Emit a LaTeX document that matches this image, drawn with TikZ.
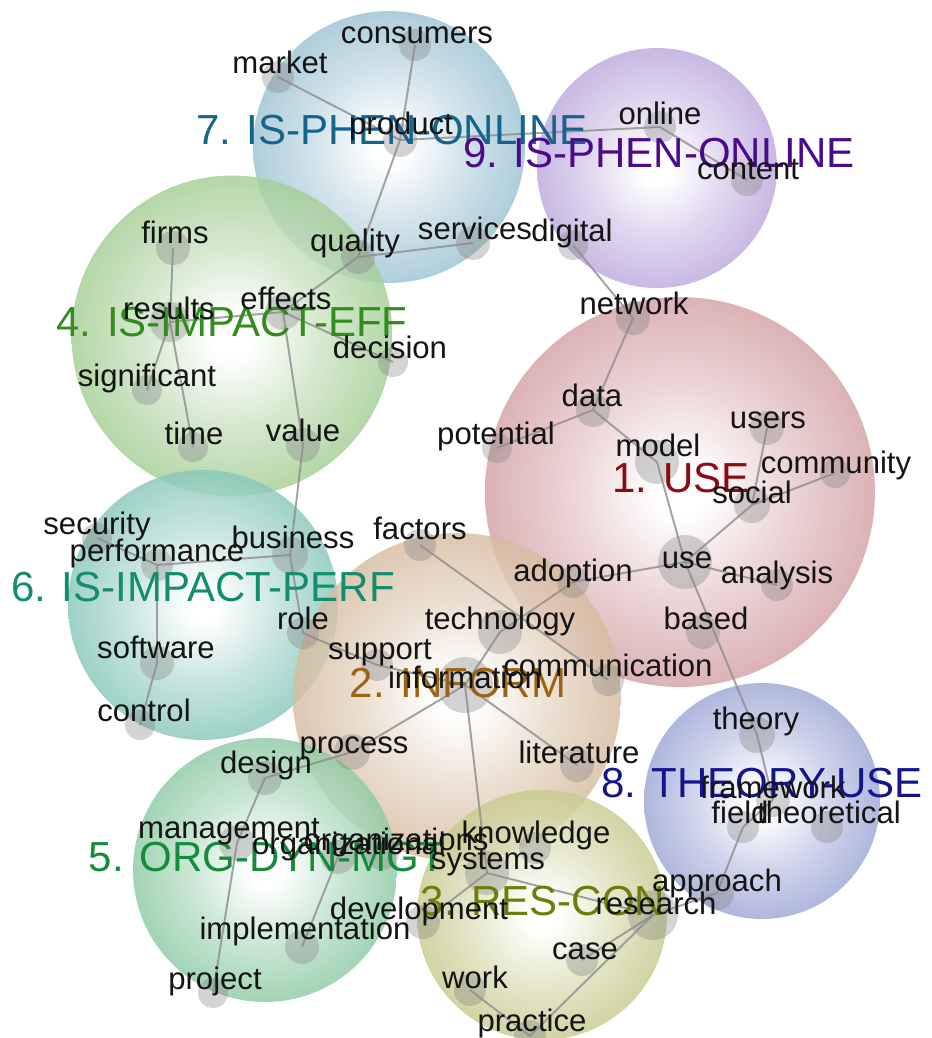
\documentclass[tikz,border=0pt]{standalone}
\usepackage{fontspec}
\setmainfont{Liberation Sans}
\definecolor{cA}{HTML}{B45C62}
\definecolor{cB}{HTML}{B88A58}
\definecolor{cC}{HTML}{9EA43A}
\definecolor{cD}{HTML}{60AA46}
\definecolor{cE}{HTML}{3AA460}
\definecolor{cF}{HTML}{309E8A}
\definecolor{cG}{HTML}{5496B2}
\definecolor{cH}{HTML}{5466B8}
\definecolor{cI}{HTML}{8C6AC4}
\definecolor{lA}{HTML}{8C0A14}
\definecolor{lB}{HTML}{9B6414}
\definecolor{lC}{HTML}{6E7D0A}
\definecolor{lD}{HTML}{328C1E}
\definecolor{lE}{HTML}{148C3C}
\definecolor{lF}{HTML}{148C6E}
\definecolor{lG}{HTML}{14648C}
\definecolor{lH}{HTML}{14148C}
\definecolor{lI}{HTML}{4B0A8C}
\colorlet{bubcol}{white}
\pgfdeclareradialshading[bubcol]{bubble}{\pgfpoint{0bp}{0bp}}{color(0bp)=(white); color(3bp)=(white); color(14bp)=(bubcol!32!white); color(32bp)=(bubcol!74!white); color(50bp)=(bubcol)}
\tikzset{
  bubset/.code={\colorlet{bubcol}{#1}},
  bub/.style={bubset=#1, shading=bubble, opacity=0.82},
  link/.style={draw=black!45, line width=1.1pt, opacity=0.8},
  dot/.style={circle, fill=black!50, fill opacity=0.34, draw=none, inner sep=0pt, minimum size=#1*0.04cm},
  term/.style={font=\fontsize{17.7}{20}\selectfont, inner sep=0pt, text height=12.5pt, text depth=3.6pt, text=black!92, yshift=-0.07cm},
  clab/.style={font=\fontsize{23.9}{28}\selectfont, inner sep=0pt, text height=17pt, text depth=5pt, text=#1, yshift=-0.07cm},
}
\begin{document}
\begin{tikzpicture}[x=0.02cm, y=-0.02cm]
\useasboundingbox (0,0) rectangle (931,1038);
% cluster bubbles
\shade[bub=cG] (389,147) circle [radius=2.72cm];
\shade[bub=cI] (657,168) circle [radius=2.40cm];
\shade[bub=cD] (232,336) circle [radius=3.21cm];
\shade[bub=cA] (680,492) circle [radius=3.90cm];
\shade[bub=cF] (203,605) circle [radius=2.70cm];
\shade[bub=cB] (457,697) circle [radius=3.28cm];
\shade[bub=cH] (762,801) circle [radius=2.36cm];
\shade[bub=cE] (265,870) circle [radius=2.64cm];
\shade[bub=cC] (542,915) circle [radius=2.50cm];
% term dots
\node[dot=16] (consumers) at (415,45) {};
\node[dot=16] (market) at (278,77) {};
\node[dot=17] (product) at (400,140) {};
\node[dot=17] (quality) at (358,257) {};
\node[dot=17] (services) at (473,243) {};
\node[dot=16] (online) at (660,127) {};
\node[dot=16] (content) at (747,180) {};
\node[dot=15] (digital) at (573,245) {};
\node[dot=17] (network) at (633,318) {};
\node[dot=17] (data) at (593,410) {};
\node[dot=15] (potential) at (497,448) {};
\node[dot=22] (model) at (657,462) {};
\node[dot=17] (users) at (767,428) {};
\node[dot=15] (community) at (835,473) {};
\node[dot=18] (social) at (752,505) {};
\node[dot=27] (use) at (685,562) {};
\node[dot=16] (adoption) at (573,582) {};
\node[dot=16] (analysis) at (777,585) {};
\node[dot=17] (based) at (703,632) {};
\node[dot=16] (factors) at (420,545) {};
\node[dot=22] (technology) at (500,632) {};
\node[dot=16] (support) at (377,665) {};
\node[dot=28] (information) at (465,685) {};
\node[dot=16] (communication) at (608,680) {};
\node[dot=18] (process) at (352,752) {};
\node[dot=17] (literature) at (577,765) {};
\node[dot=16] (role) at (303,633) {};
\node[dot=15] (security) at (97,538) {};
\node[dot=16] (performance) at (157,565) {};
\node[dot=18] (business) at (290,555) {};
\node[dot=17] (software) at (157,663) {};
\node[dot=15] (control) at (140,725) {};
\node[dot=17] (firms) at (173,248) {};
\node[dot=20] (results) at (170,322) {};
\node[dot=18] (effects) at (283,312) {};
\node[dot=15] (decision) at (393,362) {};
\node[dot=15] (significant) at (147,390) {};
\node[dot=15] (time) at (193,447) {};
\node[dot=17] (value) at (303,445) {};
\node[dot=17] (design) at (265,778) {};
\node[dot=18] (management) at (237,843) {};
\node[dot=17] (organizational) at (338,857) {};
\node[dot=17] (organizations) at (382,853) {};
\node[dot=17] (implementation) at (302,947) {};
\node[dot=17] (development) at (423,922) {};
\node[dot=15] (project) at (213,993) {};
\node[dot=16] (knowledge) at (535,848) {};
\node[dot=22] (systems) at (487,873) {};
\node[dot=25] (research) at (653,915) {};
\node[dot=17] (approach) at (717,893) {};
\node[dot=16] (case) at (582,960) {};
\node[dot=16] (work) at (470,990) {};
\node[dot=16] (practice) at (530,1036) {};
\node[dot=18] (theory) at (757,735) {};
\node[dot=17] (framework) at (773,800) {};
\node[dot=16] (field) at (743,827) {};
\node[dot=16] (theoretical) at (827,827) {};
% links
\foreach \a/\b in {market/product, consumers/product, product/quality, product/online,
  quality/services, quality/effects, online/content, digital/network, network/data,
  data/potential, data/model, model/use, use/social, social/users, social/community,
  use/adoption, use/analysis, use/theory, adoption/technology, factors/communication,
  technology/information, role/support, support/information, information/process,
  information/literature, information/systems, design/process, design/management,
  management/project, organizational/implementation, systems/development,
  systems/research, research/approach, research/case, research/practice, work/practice,
  approach/field, theory/framework, framework/field,
  firms/results, results/effects, results/significant, results/time, effects/decision,
  effects/value, value/business, security/performance, performance/business,
  business/role, performance/software, software/control}
  \draw[link] (\a.center) -- (\b.center);
% cluster labels
\node[clab=lA] (k1) at (681,478) {1. USE};
\node[clab=lB] (k2) at (458,683) {2. INFORM};
\node[clab=lC] (k3) at (543,901) {3. RES-CON};
\node[clab=lD] (k4) at (232,322) {4. IS-IMPACT-EFF};
\node[clab=lE] (k5) at (267,857) {5. ORG-DYN-MGT};
\node[clab=lF] (k6) at (203,587) {6. IS-IMPACT-PERF};
\node[clab=lG] (k7) at (392,130) {7. IS-PHEN-ONLINE};
\node[clab=lH] (k8) at (762,783) {8. THEORY-USE};
\node[clab=lI] (k9) at (659,153) {9. IS-PHEN-ONLINE};
% term labels
\node[term] (l-consumers) at (417,32) {consumers};
\node[term] (l-market) at (280,62) {market};
\node[term] (l-product) at (401,123) {product};
\node[term] (l-quality) at (355,240) {quality};
\node[term] (l-services) at (475,228) {services};
\node[term] (l-online) at (660,113) {online};
\node[term] (l-content) at (748,168) {content};
\node[term] (l-digital) at (572,230) {digital};
\node[term] (l-network) at (634,303) {network};
\node[term] (l-data) at (592,395) {data};
\node[term] (l-potential) at (496,433) {potential};
\node[term] (l-model) at (658,445) {model};
\node[term] (l-users) at (768,417) {users};
\node[term] (l-community) at (836,462) {community};
\node[term] (l-social) at (752,492) {social};
\node[term] (l-use) at (687,557) {use};
\node[term] (l-adoption) at (573,570) {adoption};
\node[term] (l-analysis) at (777,572) {analysis};
\node[term] (l-based) at (706,618) {based};
\node[term] (l-factors) at (420,528) {factors};
\node[term] (l-technology) at (500,618) {technology};
\node[term] (l-support) at (380,648) {support};
\node[term] (l-information) at (465,677) {information};
\node[term] (l-communication) at (608,665) {communication};
\node[term] (l-process) at (354,742) {process};
\node[term] (l-literature) at (579,752) {literature};
\node[term] (l-role) at (303,618) {role};
\node[term] (l-security) at (97,523) {security};
\node[term] (l-performance) at (157,550) {performance};
\node[term] (l-business) at (293,537) {business};
\node[term] (l-software) at (156,647) {software};
\node[term] (l-control) at (144,710) {control};
\node[term] (l-firms) at (175,232) {firms};
\node[term] (l-results) at (169,308) {results};
\node[term] (l-effects) at (286,298) {effects};
\node[term] (l-decision) at (390,347) {decision};
\node[term] (l-significant) at (147,375) {significant};
\node[term] (l-time) at (194,433) {time};
\node[term] (l-value) at (303,430) {value};
\node[term] (l-design) at (266,762) {design};
\node[term] (l-management) at (229,827) {management};
\node[term] (l-organizational) at (349,843) {organizational};
\node[term] (l-organizations) at (396,839) {organizations};
\node[term] (l-implementation) at (305,928) {implementation};
\node[term] (l-development) at (419,908) {development};
\node[term] (l-project) at (215,978) {project};
\node[term] (l-knowledge) at (536,832) {knowledge};
\node[term] (l-systems) at (488,858) {systems};
\node[term] (l-research) at (656,903) {research};
\node[term] (l-approach) at (717,880) {approach};
\node[term] (l-case) at (585,948) {case};
\node[term] (l-work) at (475,977) {work};
\node[term] (l-practice) at (532,1020) {practice};
\node[term] (l-theory) at (756,718) {theory};
\node[term] (l-framework) at (773,787) {framework};
\node[term] (l-field) at (740,812) {field};
\node[term] (l-theoretical) at (829,812) {theoretical};
\end{tikzpicture}
\end{document}
